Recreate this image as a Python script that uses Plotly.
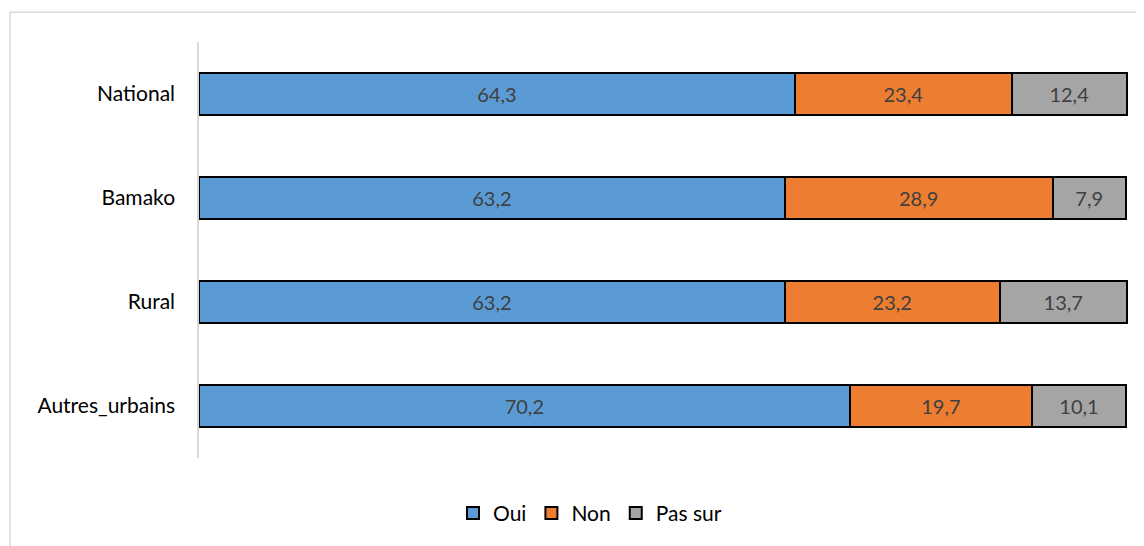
import plotly.graph_objects as go

categories = ["National", "Bamako", "Rural", "Autres_urbains"]
oui = [64.3, 63.2, 63.2, 70.2]
non = [23.4, 28.9, 23.2, 19.7]
pas_sur = [12.4, 7.9, 13.7, 10.1]

series = [("Oui", oui, "#5B9BD5"), ("Non", non, "#ED7D31"), ("Pas sur", pas_sur, "#A5A5A5")]

OFF = 8  # page body margin
W, H = 1144 - OFF, 546 - OFF
L, T = 199 - OFF, 42 - OFF
PB, PR = 463 - OFF, 1130 - OFF
R, B = W - PR, H - PB
pw, ph = PR - L, PB - T

def fmt(v):
    return f"{v:.1f}".replace(".", ",")

fig = go.Figure()
for name, vals, col in series:
    fig.add_trace(go.Bar(
        name=name, y=categories, x=vals, orientation="h",
        marker=dict(color=col, line=dict(color="#000000", width=2)),
        text=[fmt(v) for v in vals], textposition="inside",
        insidetextanchor="middle", textangle=0,
        textfont=dict(color="#404040", size=20, family="Lato"),
        width=0.4,
    ))

def px_x(p):
    return (p - OFF - L) / pw

def px_y(p):
    return (PB - (p - OFF)) / ph

fig.update_layout(
    barmode="stack",
    width=W, height=H,
    margin=dict(l=L, r=R, t=T, b=B),
    paper_bgcolor="white", plot_bgcolor="white",
    font=dict(family="Lato", color="#000000"),
    xaxis=dict(range=[0, 100.45], visible=False, fixedrange=True),
    yaxis=dict(categoryorder="array", categoryarray=categories, autorange="reversed",
               showline=True, linecolor="#D9D9D9", linewidth=1.5, ticks="",
               showgrid=False, tickfont=dict(size=21, color="#000000"), ticklabelstandoff=18),
    legend=dict(orientation="h", x=px_x(590), xanchor="center", y=px_y(519), yanchor="middle",
                font=dict(size=21, color="#000000"), traceorder="normal", itemwidth=30),
    shapes=[dict(type="rect", xref="paper", yref="paper",
                 x0=px_x(10), x1=px_x(1170), y0=px_y(570), y1=px_y(12),
                 line=dict(color="#D9D9D9", width=1.5), fillcolor="rgba(0,0,0,0)", layer="below")],
    showlegend=True,
)

fig.write_html("out.html")
